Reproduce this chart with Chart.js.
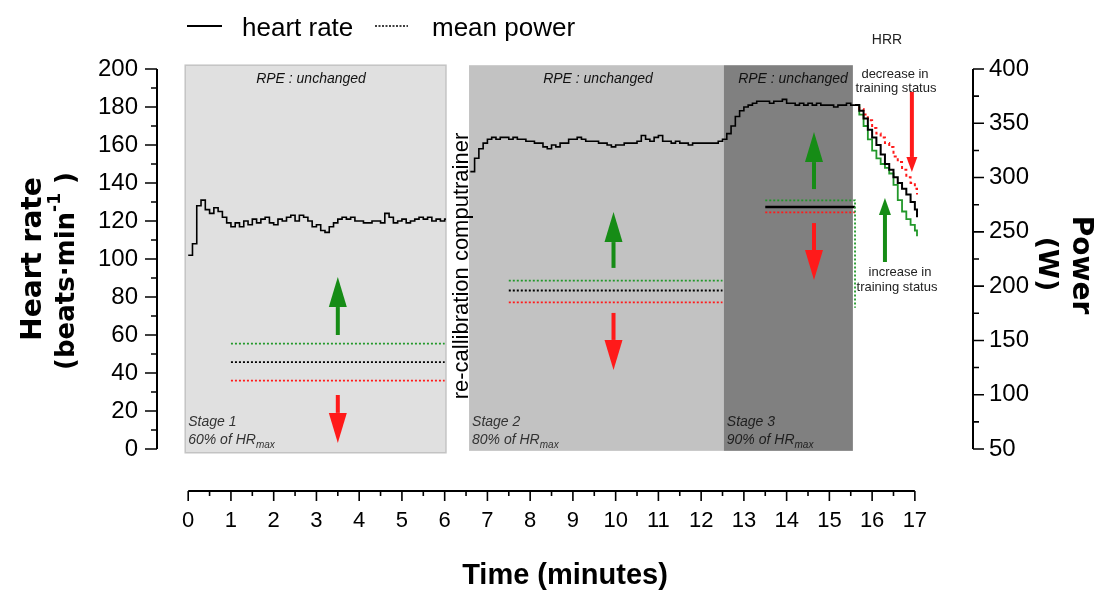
<!DOCTYPE html>
<html>
<head>
<meta charset="utf-8">
<script src="https://cdn.jsdelivr.net/npm/chart.js@4.4.1/dist/chart.umd.min.js"></script>
<style>
    html, body { margin: 0; padding: 0; background: #fff; }
    #wrap { width: 1101px; height: 592px; }
</style>
</head>
<body>
<div id="wrap"><canvas id="hrChart" width="1101" height="592"></canvas></div>
<script>
// --- DADOS ---

// rótulos dos eixos
const timeTicks = [0, 1, 2, 3, 4, 5, 6, 7, 8, 9, 10, 11, 12, 13, 14, 15, 16, 17];
const hrTicks = [0, 20, 40, 60, 80, 100, 120, 140, 160, 180, 200];
const powerTicks = [50, 100, 150, 200, 250, 300, 350, 400];

// estágios (minutos)
const stageNames = ['Stage 1', 'Stage 2', 'Stage 3'];
const stagePercent = ['60% of HR', '80% of HR', '90% of HR'];
const stageStart = [-0.07, 6.57, 12.53];
const stageEnd = [6.03, 12.53, 15.55];

// frequência cardíaca - estágio 1
const hrTime1 = [0, 0.1, 0.2, 0.3, 0.4, 0.5, 0.6, 0.7, 0.8, 0.9,
    1, 1.1, 1.2, 1.3, 1.4, 1.5, 1.6, 1.7, 1.8, 1.9,
    2, 2.1, 2.2, 2.3, 2.4, 2.5, 2.6, 2.7, 2.8, 2.9,
    3, 3.1, 3.2, 3.3, 3.4, 3.5, 3.6, 3.7, 3.8, 3.9,
    4, 4.1, 4.2, 4.3, 4.4, 4.5, 4.6, 4.7, 4.8, 4.9,
    5, 5.1, 5.2, 5.3, 5.4, 5.5, 5.6, 5.7, 5.8, 5.9, 6.0, 6.03];
const hrValues1 = [102, 108, 128, 131, 126, 124, 127, 125, 122, 119,
    117, 119, 117, 120, 118, 121, 119, 121, 122, 119,
    118, 121, 120, 122, 123, 120, 123, 122, 120, 117,
    118, 115, 114, 117, 119, 121, 122, 121, 122, 120,
    120, 119, 119, 120, 120, 119, 124, 122, 119, 120,
    121, 119, 120, 121, 122, 121, 122, 120, 121, 120, 121, 121];

// frequência cardíaca - estágios 2 e 3
const hrTime2 = [6.6, 6.7, 6.8, 6.9,
    7, 7.1, 7.2, 7.3, 7.4, 7.5, 7.6, 7.7, 7.8, 7.9,
    8, 8.1, 8.2, 8.3, 8.4, 8.5, 8.6, 8.7, 8.8, 8.9,
    9, 9.1, 9.2, 9.3, 9.4, 9.5, 9.6, 9.7, 9.8, 9.9,
    10, 10.1, 10.2, 10.3, 10.4, 10.5, 10.6, 10.7, 10.8, 10.9,
    11, 11.1, 11.2, 11.3, 11.4, 11.5, 11.6, 11.7, 11.8, 11.9,
    12, 12.1, 12.2, 12.3, 12.4, 12.5, 12.6, 12.7, 12.8, 12.9,
    13, 13.1, 13.2, 13.3, 13.4, 13.5, 13.6, 13.7, 13.8, 13.9,
    14, 14.1, 14.2, 14.3, 14.4, 14.5, 14.6, 14.7, 14.8, 14.9,
    15, 15.1, 15.2, 15.3, 15.4, 15.5, 15.6];
const hrValues2 = [146, 153, 158, 161,
    163, 164, 163, 164, 164, 163, 164, 163, 163, 162,
    162, 161, 161, 159, 158, 160, 159, 161, 161, 163,
    163, 164, 163, 162, 162, 162, 161, 161, 160, 159,
    160, 160, 161, 161, 161, 162, 165, 163, 162, 164,
    165, 162, 162, 161, 162, 161, 161, 160, 161, 161,
    161, 161, 161, 161, 162, 163, 166, 170, 175, 178,
    180, 181, 182, 183, 183, 183, 182, 183, 183, 184,
    182, 182, 181, 182, 181, 182, 181, 182, 181, 181,
    181, 180, 181, 181, 182, 181, 181];

// recuperação (HRR)
const hrrTime = [15.6, 15.7, 15.8, 15.9, 16, 16.1, 16.2, 16.3, 16.4, 16.5, 16.6, 16.7, 16.8, 16.9, 17, 17.05];
const hrrActual = [181, 178, 174, 168, 164, 160, 155, 150, 147, 143, 140, 137, 134, 130, 126, 122];
const hrrDecrease = [181, 179, 176, 173, 169, 166, 164, 161, 159, 154, 151, 147, 143, 140, 137, 134];
const hrrIncrease = [181, 176, 170, 163, 157, 153, 150, 148, 145, 139, 131, 125, 121, 118, 115, 112];

// potência média (W) por estágio
const powerStart = [1, 7.5, 13.5];
const powerEnd = [6, 12.5, 15.6];
const powerHigh = [147, 205, 279];
const powerMean = [130, 196, 273];
const powerLow = [113, 185, 268];
const powerHighDrop = 180;

// --- ESTILO ---
const SANS = "'Liberation Sans', Arial, sans-serif";
const BOLD = "'DejaVu Sans', Verdana, sans-serif";
const GREEN = '#168c16';
const GREEN_LINE = '#22982a';
const RED = '#ff1a1a';
const stageFill = ['#e0e0e0', '#c2c2c2', '#808080'];

// setas (valores em minutos / bpm)
const arrows = [
    { t: 3.5, from: 60, to: 90.5, color: GREEN, head: 30, w: 18 },
    { t: 3.5, from: 28.4, to: 3.2, color: RED, head: 30, w: 18 },
    { t: 9.95, from: 95.3, to: 124.7, color: GREEN, head: 30, w: 18 },
    { t: 9.95, from: 71.6, to: 41.6, color: RED, head: 30, w: 18 },
    { t: 14.64, from: 136.8, to: 166.8, color: GREEN, head: 30, w: 18 },
    { t: 14.64, from: 118.9, to: 88.9, color: RED, head: 30, w: 18 },
    { t: 16.93, from: 188, to: 145.8, color: RED, head: 15, w: 11 },
    { t: 16.3, from: 98.4, to: 132.1, color: GREEN, head: 17, w: 12 }
];

// --- UTILITÁRIOS ---
function pares(xs, ys) {
    return xs.map((x, i) => ({ x: x, y: ys[i] }));
}

function segmentos(values, drop) {
    const pts = [];
    values.forEach((v, i) => {
        pts.push({ x: powerStart[i], y: v }, { x: powerEnd[i], y: v });
        if (i < values.length - 1) pts.push({ x: powerEnd[i], y: null });
    });
    if (drop !== undefined) pts.push({ x: powerEnd[values.length - 1], y: drop });
    return pts;
}

function drawArrow(ctx, x, yTail, yTip, a) {
    const dir = yTip < yTail ? 1 : -1; // 1 = aponta para cima
    const base = yTip + dir * a.head;
    ctx.save();
    ctx.strokeStyle = a.color;
    ctx.fillStyle = a.color;
    ctx.lineWidth = 4;
    ctx.beginPath();
    ctx.moveTo(x, yTail);
    ctx.lineTo(x, base);
    ctx.stroke();
    ctx.beginPath();
    ctx.moveTo(x, yTip);
    ctx.lineTo(x - a.w / 2, base);
    ctx.lineTo(x + a.w / 2, base);
    ctx.closePath();
    ctx.fill();
    ctx.restore();
}

function rotText(ctx, text, x, y, angle, font) {
    ctx.save();
    ctx.translate(x, y);
    ctx.rotate(angle);
    ctx.font = font;
    ctx.textAlign = 'center';
    ctx.textBaseline = 'middle';
    ctx.fillText(text, 0, 0);
    ctx.restore();
}

// fundo: painéis dos estágios
const stagePanels = {
    id: 'stagePanels',
    beforeDatasetsDraw(chart) {
        const { ctx, scales: { x, y } } = chart;
        ctx.save();
        stageStart.forEach((s, i) => {
            const x0 = x.getPixelForValue(s);
            const x1 = x.getPixelForValue(stageEnd[i]);
            const y0 = y.getPixelForValue(202);
            const y1 = y.getPixelForValue(i === 0 ? -2 : -1);
            ctx.fillStyle = stageFill[i];
            ctx.fillRect(x0, y0, x1 - x0, y1 - y0);
            if (i === 0) {
                ctx.strokeStyle = '#c4c4c4';
                ctx.lineWidth = 1.5;
                ctx.strokeRect(x0, y0, x1 - x0, y1 - y0);
            }
        });
        ctx.restore();
    },
    afterDatasetsDraw(chart) {
        const { ctx, chartArea, scales: { x, y, y2 } } = chart;
        ctx.save();

        // setas
        arrows.forEach(a => drawArrow(ctx, x.getPixelForValue(a.t), y.getPixelForValue(a.from), y.getPixelForValue(a.to), a));

        // eixos
        ctx.strokeStyle = '#000';
        ctx.lineWidth = 2;
        ctx.setLineDash([]);
        const yl = chartArea.left;
        const yr = chartArea.right;
        const xb = chartArea.bottom + 1;
        ctx.beginPath();
        ctx.moveTo(yl, y.getPixelForValue(hrTicks[0]));
        ctx.lineTo(yl, y.getPixelForValue(hrTicks[hrTicks.length - 1]));
        ctx.moveTo(yr, y2.getPixelForValue(powerTicks[0]));
        ctx.lineTo(yr, y2.getPixelForValue(powerTicks[powerTicks.length - 1]));
        ctx.moveTo(x.getPixelForValue(timeTicks[0]), xb);
        ctx.lineTo(x.getPixelForValue(timeTicks[timeTicks.length - 1]), xb);
        ctx.stroke();

        ctx.lineWidth = 1.6;
        ctx.beginPath();
        hrTicks.forEach((v, i) => {
            const py = y.getPixelForValue(v);
            ctx.moveTo(yl, py); ctx.lineTo(yl - 12, py);
            if (i < hrTicks.length - 1) {
                const pm = y.getPixelForValue((v + hrTicks[i + 1]) / 2);
                ctx.moveTo(yl, pm); ctx.lineTo(yl - 6, pm);
            }
        });
        powerTicks.forEach((v, i) => {
            const py = y2.getPixelForValue(v);
            ctx.moveTo(yr, py); ctx.lineTo(yr + 11, py);
            if (i < powerTicks.length - 1) {
                const pm = y2.getPixelForValue((v + powerTicks[i + 1]) / 2);
                ctx.moveTo(yr, pm); ctx.lineTo(yr + 6, pm);
            }
        });
        timeTicks.forEach((v, i) => {
            const px = x.getPixelForValue(v);
            ctx.moveTo(px, xb); ctx.lineTo(px, xb + 10);
            if (i < timeTicks.length - 1) {
                const pm = x.getPixelForValue((v + timeTicks[i + 1]) / 2);
                ctx.moveTo(pm, xb); ctx.lineTo(pm, xb + 5);
            }
        });
        ctx.stroke();

        // legenda
        ctx.lineWidth = 2;
        ctx.beginPath();
        ctx.moveTo(187, 26); ctx.lineTo(222, 26);
        ctx.stroke();
        ctx.lineWidth = 1.5;
        ctx.setLineDash([2, 1.5]);
        ctx.beginPath();
        ctx.moveTo(375, 26); ctx.lineTo(408, 26);
        ctx.stroke();
        ctx.setLineDash([]);
        ctx.fillStyle = '#000';
        ctx.font = '26px ' + SANS;
        ctx.textAlign = 'left';
        ctx.textBaseline = 'alphabetic';
        ctx.fillText('heart rate', 242, 36);
        ctx.fillText('mean power', 432, 36);

        // RPE
        ctx.font = 'italic 14px ' + SANS;
        ctx.textAlign = 'center';
        ctx.fillStyle = '#111';
        [311, 598, 793].forEach(px => ctx.fillText('RPE : unchanged', px, 83));

        // estágios
        ctx.textAlign = 'left';
        stageNames.forEach((name, i) => {
            const px = x.getPixelForValue(stageStart[i]) + 3;
            ctx.fillStyle = i === 2 ? '#1e1e1e' : '#333';
            ctx.font = 'italic 14px ' + SANS;
            ctx.fillText(name, px, 426);
            ctx.fillText(stagePercent[i], px, 444);
            const w = ctx.measureText(stagePercent[i]).width;
            ctx.font = 'italic 10px ' + SANS;
            ctx.fillText('max', px + w, 448);
        });

        // HRR
        ctx.fillStyle = '#222';
        ctx.textAlign = 'center';
        ctx.textBaseline = 'middle';
        ctx.font = '14px ' + SANS;
        ctx.fillText('HRR', 887, 40);
        ctx.font = '13px ' + SANS;
        ctx.fillText('decrease in', 895, 74);
        ctx.fillText('training status', 896, 88);
        ctx.fillText('increase in', 900, 272);
        ctx.fillText('training status', 897, 287);

        // texto vertical
        ctx.fillStyle = '#000';
        rotText(ctx, 're-callibration computrainer', 462, 266, -Math.PI / 2, '22px ' + SANS);

        // títulos dos eixos Y
        rotText(ctx, 'Heart rate', 34, 259, -Math.PI / 2, 'bold 28px ' + BOLD);
        ctx.save();
        ctx.translate(67, 271);
        ctx.rotate(-Math.PI / 2);
        ctx.textBaseline = 'middle';
        ctx.textAlign = 'left';
        const big = 'bold 26px ' + BOLD;
        const small = 'bold 17px ' + BOLD;
        ctx.font = big;
        const w1 = ctx.measureText('(beats\u00b7min').width;
        const w3 = ctx.measureText(' )').width;
        ctx.font = small;
        const w2 = ctx.measureText('-1').width;
        let sx = -(w1 + w2 + w3) / 2;
        ctx.font = big;
        ctx.fillText('(beats\u00b7min', sx, 0);
        ctx.font = small;
        ctx.fillText('-1', sx + w1, -11);
        ctx.font = big;
        ctx.fillText(' )', sx + w1 + w2, 0);
        ctx.restore();

        rotText(ctx, 'Power', 1080, 265, Math.PI / 2, 'bold 28px ' + BOLD);
        rotText(ctx, '(W)', 1046, 264, Math.PI / 2, 'bold 27px ' + BOLD);

        ctx.restore();
    }
};

// --- GRÁFICO ---
const dotted = { pointRadius: 0, borderWidth: 1.8, borderDash: [2, 2], yAxisID: 'y2', spanGaps: false };

new Chart(document.getElementById('hrChart').getContext('2d'), {
    type: 'line',
    data: {
        datasets: [
            { label: 'heart rate', data: pares(hrTime1, hrValues1), borderColor: '#000', borderWidth: 1.6, stepped: true, pointRadius: 0, yAxisID: 'y' },
            { label: 'heart rate 2', data: pares(hrTime2, hrValues2), borderColor: '#000', borderWidth: 1.6, stepped: true, pointRadius: 0, yAxisID: 'y' },
            { label: 'HRR', data: pares(hrrTime, hrrActual), borderColor: '#000', borderWidth: 2, stepped: true, pointRadius: 0, yAxisID: 'y' },
            { label: 'HRR decrease', data: pares(hrrTime, hrrDecrease), borderColor: RED, borderWidth: 2, borderDash: [3, 3], stepped: true, pointRadius: 0, yAxisID: 'y' },
            { label: 'HRR increase', data: pares(hrrTime, hrrIncrease), borderColor: GREEN_LINE, borderWidth: 1.8, stepped: true, pointRadius: 0, yAxisID: 'y' },
            Object.assign({ label: 'power high', data: segmentos(powerHigh, powerHighDrop), borderColor: GREEN_LINE }, dotted),
            Object.assign({ label: 'mean power', data: segmentos(powerMean.slice(0, 2)), borderColor: '#000' }, dotted),
            { label: 'mean power 3', data: [{ x: powerStart[2], y: powerMean[2] }, { x: powerEnd[2], y: powerMean[2] }], borderColor: '#000', borderWidth: 2.5, pointRadius: 0, yAxisID: 'y2' },
            Object.assign({ label: 'power low', data: segmentos(powerLow), borderColor: RED }, dotted)
        ]
    },
    options: {
        responsive: false,
        animation: false,
        devicePixelRatio: 1,
        layout: { padding: { top: 69, left: 0, right: 0, bottom: 0 } },
        plugins: { legend: { display: false }, tooltip: { enabled: false } },
        scales: {
            x: {
                type: 'linear', min: -0.73, max: 18.36, position: 'bottom',
                grid: { display: false, drawTicks: false }, border: { display: false },
                afterBuildTicks: s => { s.ticks = timeTicks.map(v => ({ value: v })); },
                afterFit: s => { s.height = 102; },
                ticks: { padding: 18, color: '#000', autoSkip: false, maxRotation: 0, font: { family: SANS, size: 22 } },
                title: { display: true, text: 'Time (minutes)', color: '#000', font: { family: SANS, size: 29, weight: 'bold', lineHeight: 1 }, padding: { top: 0, bottom: 2 } }
            },
            y: {
                min: -21.6, max: 200, position: 'left',
                grid: { display: false, drawTicks: false }, border: { display: false },
                afterBuildTicks: s => { s.ticks = hrTicks.map(v => ({ value: v })); },
                afterFit: s => { s.width = 157; },
                ticks: { padding: 19, color: '#000', autoSkip: false, font: { family: SANS, size: 24 } }
            },
            y2: {
                min: 12.24, max: 400, position: 'right',
                grid: { display: false, drawTicks: false }, border: { display: false },
                afterBuildTicks: s => { s.ticks = powerTicks.map(v => ({ value: v })); },
                afterFit: s => { s.width = 128; },
                ticks: { padding: 16, color: '#000', autoSkip: false, font: { family: SANS, size: 24 } }
            }
        }
    },
    plugins: [stagePanels]
});
</script>
</body>
</html>
